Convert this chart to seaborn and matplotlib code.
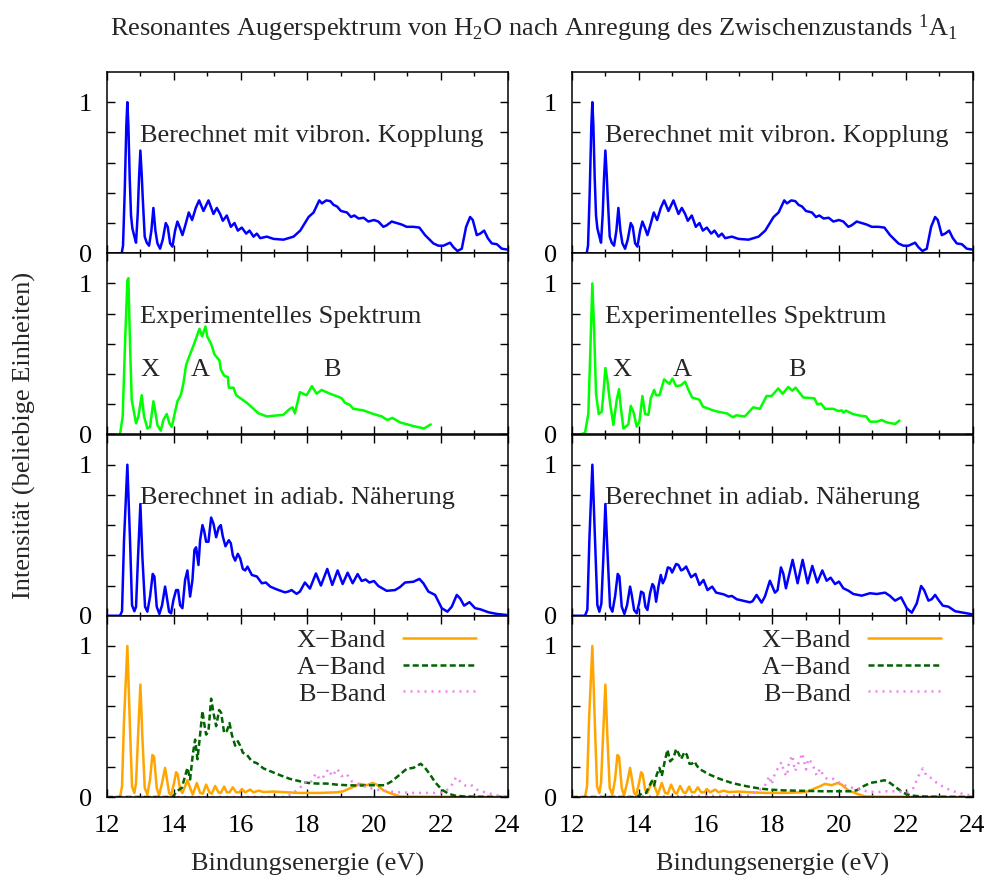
import matplotlib
matplotlib.use("Agg")
import matplotlib.pyplot as plt
from matplotlib.ticker import MultipleLocator, FixedLocator, FixedFormatter
import pandas as pd
import seaborn as sns

# ---------------------------------------------------------------------------
# Spectra (binding energy in eV, intensity in arbitrary units)
# ---------------------------------------------------------------------------

# computed with vibronic coupling (identical in both columns)
vib_E = [12.30, 12.44, 12.48, 12.53, 12.58, 12.61, 12.64, 12.68, 12.72, 12.76,
         12.81, 12.87, 12.92, 12.96, 13.00, 13.04, 13.07, 13.13, 13.19, 13.26,
         13.33, 13.39, 13.45, 13.51, 13.59, 13.67, 13.76, 13.82, 13.89, 13.96,
         14.04, 14.11, 14.19, 14.26, 14.34, 14.45, 14.55, 14.66, 14.76, 14.89,
         15.04, 15.19, 15.29, 15.39, 15.47, 15.59, 15.71, 15.82, 15.92, 16.04,
         16.17, 16.27, 16.39, 16.49, 16.59, 16.79, 16.99, 17.29, 17.59, 17.79,
         18.04, 18.19, 18.36, 18.44, 18.57, 18.69, 18.79, 18.89, 19.01, 19.19,
         19.31, 19.41, 19.54, 19.69, 19.83, 20.00, 20.13, 20.28, 20.38, 20.53,
         20.68, 20.83, 20.98, 21.18, 21.36, 21.53, 21.78, 21.93, 22.08, 22.28,
         22.38, 22.50, 22.63, 22.76, 22.88, 22.96, 23.08, 23.18, 23.30, 23.41,
         23.53, 23.68, 23.83, 23.98]
vib_I = [0.0, 0.0, 0.05, 0.40, 0.85, 1.00, 0.85, 0.50, 0.25, 0.165,
         0.12, 0.07, 0.26, 0.50, 0.68, 0.52, 0.37, 0.11, 0.07, 0.05,
         0.15, 0.30, 0.15, 0.066, 0.03, 0.09, 0.20, 0.175, 0.066, 0.044,
         0.15, 0.21, 0.165, 0.12, 0.18, 0.27, 0.22, 0.30, 0.35, 0.28,
         0.35, 0.26, 0.30, 0.26, 0.215, 0.25, 0.175, 0.20, 0.15, 0.17,
         0.13, 0.15, 0.11, 0.13, 0.10, 0.11, 0.095, 0.09, 0.11, 0.15,
         0.24, 0.27, 0.35, 0.33, 0.35, 0.345, 0.32, 0.31, 0.28, 0.27,
         0.24, 0.25, 0.23, 0.235, 0.21, 0.22, 0.21, 0.175, 0.185, 0.21,
         0.20, 0.19, 0.175, 0.175, 0.17, 0.12, 0.065, 0.05, 0.05, 0.07,
         0.04, 0.015, 0.03, 0.175, 0.24, 0.22, 0.12, 0.13, 0.15, 0.10,
         0.065, 0.06, 0.03, 0.025]

# experimental spectra
expL_E = [12.39, 12.47, 12.54, 12.61, 12.64, 12.69, 12.74, 12.87, 12.94, 13.04,
          13.11, 13.21, 13.29, 13.39, 13.44, 13.51, 13.61, 13.69, 13.79, 13.87,
          13.94, 14.01, 14.11, 14.21, 14.29, 14.37, 14.47, 14.61, 14.77, 14.85,
          14.95, 15.01, 15.12, 15.22, 15.37, 15.41, 15.51, 15.62, 15.65, 15.79,
          15.87, 16.19, 16.54, 16.79, 17.28, 17.48, 17.56, 17.63, 17.78, 17.98,
          18.14, 18.28, 18.43, 18.68, 18.93, 19.03, 19.13, 19.28, 19.38, 19.68,
          19.98, 20.23, 20.40, 20.55, 20.78, 21.18, 21.50, 21.70]
expL_I = [0.0, 0.12, 0.60, 1.02, 1.035, 0.60, 0.23, 0.074, 0.12, 0.26,
          0.12, 0.04, 0.05, 0.22, 0.16, 0.063, 0.025, 0.096, 0.136, 0.074,
          0.05, 0.12, 0.22, 0.26, 0.34, 0.46, 0.52, 0.60, 0.70, 0.65,
          0.715, 0.645, 0.60, 0.53, 0.49, 0.43, 0.39, 0.38, 0.31, 0.31,
          0.26, 0.21, 0.14, 0.12, 0.13, 0.17, 0.18, 0.14, 0.28, 0.26,
          0.32, 0.27, 0.295, 0.27, 0.25, 0.24, 0.21, 0.195, 0.17, 0.16,
          0.136, 0.12, 0.096, 0.11, 0.08, 0.056, 0.04, 0.067]

expR_E = [12.24, 12.39, 12.49, 12.54, 12.61, 12.66, 12.72, 12.80, 12.89, 12.94,
          13.00, 13.06, 13.14, 13.24, 13.34, 13.41, 13.46, 13.54, 13.69, 13.76,
          13.84, 13.94, 14.02, 14.11, 14.19, 14.29, 14.36, 14.46, 14.52, 14.62,
          14.76, 14.92, 15.01, 15.12, 15.26, 15.39, 15.49, 15.60, 15.82, 15.92,
          16.22, 16.39, 16.64, 16.82, 16.92, 17.18, 17.43, 17.63, 17.83, 17.98,
          18.18, 18.31, 18.48, 18.60, 18.70, 18.93, 19.26, 19.35, 19.46, 19.58,
          19.83, 19.98, 20.08, 20.13, 20.21, 20.41, 20.63, 20.81, 20.93, 21.13,
          21.28, 21.43, 21.68, 21.81]
expR_I = [0.0, 0.01, 0.14, 0.49, 1.00, 0.71, 0.27, 0.136, 0.15, 0.27,
          0.44, 0.36, 0.21, 0.063, 0.23, 0.30, 0.185, 0.04, 0.067, 0.19,
          0.15, 0.052, 0.085, 0.255, 0.136, 0.13, 0.24, 0.295, 0.26, 0.26,
          0.365, 0.335, 0.37, 0.32, 0.325, 0.35, 0.295, 0.245, 0.23, 0.185,
          0.16, 0.15, 0.14, 0.114, 0.127, 0.12, 0.18, 0.17, 0.255, 0.255,
          0.305, 0.27, 0.315, 0.29, 0.31, 0.245, 0.24, 0.20, 0.205, 0.17,
          0.17, 0.155, 0.16, 0.145, 0.158, 0.136, 0.125, 0.12, 0.085, 0.085,
          0.096, 0.08, 0.07, 0.092]

# computed in the adiabatic approximation
adL_E = [12.00, 12.39, 12.45, 12.51, 12.61, 12.69, 12.75, 12.82, 12.87, 12.93,
         13.00, 13.06, 13.14, 13.21, 13.29, 13.37, 13.42, 13.49, 13.57, 13.65,
         13.74, 13.79, 13.86, 13.92, 13.99, 14.07, 14.13, 14.19, 14.26, 14.34,
         14.41, 14.49, 14.56, 14.62, 14.67, 14.74, 14.79, 14.86, 14.91, 14.97,
         15.04, 15.12, 15.19, 15.27, 15.35, 15.41, 15.47, 15.55, 15.65, 15.71,
         15.77, 15.84, 15.92, 15.99, 16.07, 16.14, 16.21, 16.34, 16.49, 16.64,
         16.76, 16.89, 17.08, 17.33, 17.43, 17.53, 17.68, 17.78, 17.93, 18.08,
         18.26, 18.41, 18.60, 18.75, 18.91, 19.06, 19.21, 19.36, 19.51, 19.63,
         19.75, 19.86, 20.00, 20.13, 20.38, 20.63, 20.78, 20.93, 21.18, 21.36,
         21.48, 21.63, 21.83, 22.03, 22.20, 22.33, 22.48, 22.58, 22.70, 22.86,
         23.03, 23.18, 23.43, 23.68, 23.98]
adL_I = [0.0, 0.0, 0.03, 0.50, 1.00, 0.50, 0.07, 0.03, 0.06, 0.39,
         0.74, 0.39, 0.06, 0.027, 0.127, 0.277, 0.26, 0.06, 0.012, 0.07,
         0.193, 0.127, 0.027, 0.016, 0.104, 0.17, 0.17, 0.07, 0.05, 0.237,
         0.30, 0.127, 0.237, 0.436, 0.453, 0.336, 0.50, 0.60, 0.563, 0.49,
         0.49, 0.65, 0.61, 0.52, 0.585, 0.60, 0.525, 0.46, 0.50, 0.48,
         0.40, 0.365, 0.41, 0.38, 0.31, 0.30, 0.325, 0.27, 0.26, 0.215,
         0.22, 0.193, 0.175, 0.155, 0.16, 0.17, 0.145, 0.16, 0.22, 0.18,
         0.28, 0.20, 0.31, 0.204, 0.30, 0.21, 0.285, 0.215, 0.276, 0.23,
         0.24, 0.22, 0.23, 0.197, 0.165, 0.17, 0.19, 0.22, 0.225, 0.244,
         0.215, 0.16, 0.138, 0.05, 0.027, 0.06, 0.138, 0.115, 0.067, 0.09,
         0.05, 0.043, 0.023, 0.012, 0.005]

adR_E = [12.04, 12.39, 12.46, 12.52, 12.61, 12.69, 12.76, 12.82, 12.88, 12.94,
         13.00, 13.07, 13.14, 13.21, 13.29, 13.37, 13.42, 13.49, 13.57, 13.65,
         13.74, 13.79, 13.86, 13.94, 14.01, 14.07, 14.14, 14.20, 14.26, 14.34,
         14.41, 14.46, 14.52, 14.59, 14.66, 14.72, 14.79, 14.87, 14.94, 15.00,
         15.12, 15.19, 15.27, 15.34, 15.42, 15.49, 15.57, 15.70, 15.82, 15.94,
         16.06, 16.20, 16.32, 16.54, 16.69, 16.79, 16.94, 17.33, 17.41, 17.53,
         17.68, 17.78, 17.93, 18.08, 18.16, 18.26, 18.33, 18.41, 18.61, 18.76,
         18.91, 19.06, 19.20, 19.35, 19.50, 19.63, 19.75, 19.88, 20.00, 20.13,
         20.28, 20.43, 20.68, 20.93, 21.13, 21.38, 21.53, 21.68, 21.86, 22.03,
         22.18, 22.33, 22.46, 22.55, 22.68, 22.78, 22.88, 22.98, 23.11, 23.28,
         23.48, 23.73, 23.98]
adR_I = [0.0, 0.0, 0.04, 0.50, 1.00, 0.50, 0.07, 0.027, 0.08, 0.39,
         0.74, 0.39, 0.06, 0.027, 0.127, 0.277, 0.26, 0.06, 0.012, 0.07,
         0.193, 0.138, 0.038, 0.016, 0.082, 0.16, 0.15, 0.06, 0.038, 0.15,
         0.21, 0.193, 0.093, 0.193, 0.27, 0.215, 0.248, 0.32, 0.315, 0.286,
         0.343, 0.336, 0.30, 0.308, 0.326, 0.292, 0.255, 0.277, 0.204, 0.237,
         0.17, 0.193, 0.153, 0.142, 0.127, 0.131, 0.109, 0.089, 0.096, 0.138,
         0.087, 0.127, 0.232, 0.153, 0.17, 0.32, 0.28, 0.182, 0.37, 0.215,
         0.37, 0.215, 0.33, 0.22, 0.30, 0.232, 0.252, 0.21, 0.226, 0.182,
         0.166, 0.144, 0.133, 0.149, 0.144, 0.153, 0.131, 0.10, 0.122, 0.05,
         0.02, 0.082, 0.197, 0.17, 0.10, 0.11, 0.138, 0.105, 0.067, 0.06,
         0.03, 0.02, 0.01]

# band contributions: X band (same in both columns)
xb_E = [12.39, 12.45, 12.51, 12.61, 12.69, 12.75, 12.82, 12.87, 12.93, 13.00,
        13.06, 13.13, 13.21, 13.29, 13.36, 13.41, 13.49, 13.56, 13.65, 13.74,
        13.79, 13.86, 13.92, 14.01, 14.07, 14.12, 14.19, 14.26, 14.34, 14.41,
        14.49, 14.57, 14.69, 14.79, 14.87, 14.97, 15.07, 15.14, 15.24, 15.34,
        15.41, 15.51, 15.59, 15.67, 15.77, 15.87, 15.97, 16.04, 16.14, 16.29,
        16.39, 16.54, 16.69, 16.99, 17.38, 17.78, 18.38, 18.88, 19.08, 19.23,
        19.43, 19.58, 19.78, 19.96, 20.08, 20.28, 20.53, 20.78, 21.28, 24.00]
xb_I = [0.0, 0.07, 0.51, 1.00, 0.45, 0.07, 0.027, 0.093, 0.40, 0.744,
        0.40, 0.06, 0.016, 0.116, 0.278, 0.267, 0.06, 0.01, 0.093, 0.193,
        0.127, 0.027, 0.011, 0.093, 0.164, 0.149, 0.049, 0.027, 0.071, 0.111,
        0.06, 0.016, 0.093, 0.027, 0.022, 0.082, 0.031, 0.022, 0.073, 0.031,
        0.027, 0.069, 0.031, 0.031, 0.064, 0.031, 0.031, 0.053, 0.031, 0.049,
        0.031, 0.042, 0.033, 0.036, 0.031, 0.027, 0.027, 0.031, 0.038, 0.053,
        0.071, 0.087, 0.078, 0.093, 0.082, 0.044, 0.022, 0.004, 0.002, 0.0]

# A band
abL_E = [12.00, 13.97, 14.09, 14.24, 14.34, 14.41, 14.49, 14.57, 14.64, 14.71,
         14.79, 14.86, 14.91, 14.97, 15.04, 15.12, 15.19, 15.27, 15.36, 15.42,
         15.51, 15.59, 15.67, 15.74, 15.84, 15.92, 15.99, 16.07, 16.19, 16.34,
         16.49, 16.69, 16.89, 17.19, 17.48, 17.78, 18.03, 18.28, 18.58, 18.88,
         19.18, 19.58, 19.98, 20.33, 20.53, 20.78, 20.98, 21.18, 21.40, 21.53,
         21.68, 21.83, 22.03, 22.23, 22.43, 22.68, 22.98, 24.00]
abL_I = [0.0, 0.0, 0.038, 0.06, 0.138, 0.193, 0.116, 0.28, 0.38, 0.25,
         0.413, 0.57, 0.49, 0.413, 0.436, 0.651, 0.558, 0.469, 0.576, 0.558,
         0.424, 0.436, 0.49, 0.413, 0.34, 0.369, 0.34, 0.293, 0.28, 0.236,
         0.224, 0.189, 0.171, 0.144, 0.12, 0.104, 0.093, 0.089, 0.089, 0.082,
         0.078, 0.076, 0.078, 0.078, 0.104, 0.149, 0.187, 0.193, 0.22, 0.193,
         0.149, 0.098, 0.049, 0.022, 0.009, 0.004, 0.002, 0.0]

abR_E = [12.00, 13.94, 14.09, 14.22, 14.29, 14.39, 14.46, 14.54, 14.62, 14.69,
         14.77, 14.86, 14.94, 15.04, 15.12, 15.19, 15.27, 15.37, 15.44, 15.52,
         15.59, 15.67, 15.74, 15.84, 15.94, 16.04, 16.19, 16.34, 16.54, 16.79,
         17.04, 17.33, 17.63, 17.93, 18.33, 18.73, 19.13, 19.53, 19.93, 20.33,
         20.53, 20.73, 20.93, 21.13, 21.36, 21.53, 21.73, 21.93, 22.13, 22.43,
         22.83, 24.00]
abR_I = [0.0, 0.0, 0.022, 0.027, 0.06, 0.104, 0.076, 0.149, 0.193, 0.138,
         0.227, 0.313, 0.236, 0.258, 0.318, 0.29, 0.251, 0.298, 0.28, 0.22,
         0.22, 0.236, 0.207, 0.182, 0.171, 0.156, 0.142, 0.127, 0.111, 0.093,
         0.08, 0.067, 0.056, 0.049, 0.044, 0.042, 0.04, 0.038, 0.038, 0.038,
         0.044, 0.071, 0.093, 0.10, 0.111, 0.093, 0.06, 0.027, 0.011, 0.004,
         0.002, 0.0]

# B band
bbL_E = [12.00, 17.38, 17.58, 17.78, 17.93, 18.08, 18.26, 18.38, 18.50, 18.63,
         18.75, 18.90, 19.03, 19.18, 19.33, 19.48, 19.68, 19.88, 20.08, 20.38,
         20.78, 21.18, 21.58, 21.88, 22.08, 22.28, 22.46, 22.58, 22.73, 22.90,
         23.08, 23.38, 23.68, 23.98]
bbL_I = [0.0, 0.0, 0.027, 0.06, 0.098, 0.089, 0.156, 0.116, 0.138, 0.184,
         0.138, 0.187, 0.138, 0.153, 0.104, 0.093, 0.071, 0.06, 0.049, 0.038,
         0.031, 0.027, 0.027, 0.027, 0.031, 0.06, 0.131, 0.104, 0.076, 0.082,
         0.049, 0.027, 0.011, 0.004]

bbR_E = [12.00, 17.33, 17.53, 17.73, 17.83, 17.91, 17.98, 18.08, 18.21, 18.28,
         18.36, 18.44, 18.50, 18.60, 18.68, 18.75, 18.90, 19.01, 19.08, 19.20,
         19.33, 19.43, 19.55, 19.68, 19.83, 20.03, 20.23, 20.53, 20.83, 21.13,
         21.43, 21.73, 22.03, 22.23, 22.38, 22.51, 22.63, 22.78, 22.93, 23.18,
         23.43, 23.68, 23.98]
bbR_I = [0.0, 0.009, 0.038, 0.06, 0.093, 0.138, 0.082, 0.156, 0.204, 0.231,
         0.16, 0.138, 0.227, 0.276, 0.171, 0.204, 0.29, 0.182, 0.253, 0.222,
         0.142, 0.187, 0.133, 0.116, 0.12, 0.093, 0.071, 0.053, 0.038, 0.031,
         0.038, 0.038, 0.031, 0.06, 0.138, 0.189, 0.138, 0.124, 0.093, 0.06,
         0.038, 0.022, 0.009]

panel_titles = ["Berechnet mit vibron. Kopplung",
                "Experimentelles Spektrum",
                "Berechnet in adiab. Näherung"]
band_labels = ["X\u2212Band", "A\u2212Band", "B\u2212Band"]
exp_peak_labels = ["X", "A", "B"]
exp_peak_pos = {"left": [13.28, 14.78, 18.75], "right": [13.50, 15.31, 18.75]}

title = ("Resonantes Augerspektrum von H$_2$O nach Anregung des "
         "Zwischenzustands $^1$A$_1$")
ylabel = "Intensität (beliebige Einheiten)"
xlabel = "Bindungsenergie (eV)"
xticks = [12, 14, 16, 18, 20, 22, 24]
yticks = [0, 0.2, 0.4, 0.6, 0.8, 1.0]
ytick_labels = ["0", "", "", "", "", "1"]

# ---------------------------------------------------------------------------
# Styling
# ---------------------------------------------------------------------------
sns.set_theme(style="ticks")
plt.rcParams["font.family"] = ["Liberation Serif", "DejaVu Serif"]
plt.rcParams["mathtext.fontset"] = "custom"
plt.rcParams["mathtext.rm"] = "Liberation Serif"
plt.rcParams["mathtext.it"] = "Liberation Serif:italic"
plt.rcParams["mathtext.bf"] = "Liberation Serif:bold"
plt.rcParams["axes.linewidth"] = 1.1

FS = 19
LW = 1.8
BLUE = "#0000ff"
GREEN = "#00ff00"
ORANGE = "#ffa500"
DKGREEN = "#006400"
VIOLET = "#ee82ee"

fig = plt.figure(figsize=(9.92, 8.8), dpi=100)

col_left = {"left": 107 / 992, "right": 572 / 992}
ax_w = 400.5 / 992
ax_h = 181.25 / 880
bottom0 = 1 - 797 / 880

columns = {
    "left": [
        [(vib_E, vib_I, BLUE, "-", None)],
        [(expL_E, expL_I, GREEN, "-", None)],
        [(adL_E, adL_I, BLUE, "-", None)],
        [(xb_E, xb_I, ORANGE, "-", band_labels[0]),
         (abL_E, abL_I, DKGREEN, (0, (2.4, 1.3)), band_labels[1]),
         (bbL_E, bbL_I, VIOLET, (0, (0.8, 2.0)), band_labels[2])],
    ],
    "right": [
        [(vib_E, vib_I, BLUE, "-", None)],
        [(expR_E, expR_I, GREEN, "-", None)],
        [(adR_E, adR_I, BLUE, "-", None)],
        [(xb_E, xb_I, ORANGE, "-", band_labels[0]),
         (abR_E, abR_I, DKGREEN, (0, (2.4, 1.3)), band_labels[1]),
         (bbR_E, bbR_I, VIOLET, (0, (0.8, 2.0)), band_labels[2])],
    ],
}

for side, rows in columns.items():
    for r, curves in enumerate(rows):
        ax = fig.add_axes([col_left[side], bottom0 + (3 - r) * ax_h, ax_w, ax_h])
        handles = []
        for E, I, color, ls, label in curves:
            df = pd.DataFrame({"E": E, "I": I})
            sns.lineplot(data=df, x="E", y="I", ax=ax, color=color,
                         linewidth=LW, linestyle=ls, sort=False,
                         estimator=None, legend=False)
            line = ax.get_lines()[-1]
            if ls != "-":
                line.set_dash_capstyle("butt")
            if label is not None:
                handles.append((line, label))

        ax.set_xlim(12, 24)
        ax.set_ylim(0, 1.2)
        ax.set_xlabel("")
        ax.set_ylabel("")
        ax.xaxis.set_major_locator(FixedLocator(xticks))
        ax.xaxis.set_minor_locator(MultipleLocator(1))
        ax.yaxis.set_major_locator(FixedLocator(yticks))
        ax.yaxis.set_major_formatter(FixedFormatter(ytick_labels))
        ax.tick_params(which="both", direction="in", top=True, right=True,
                       width=1.0, labelsize=FS, colors="black")
        ax.tick_params(which="major", length=6)
        ax.tick_params(which="minor", length=3)
        ax.tick_params(axis="y", pad=11)
        ax.tick_params(axis="x", pad=13)
        if r < 3:
            ax.tick_params(labelbottom=False)
        for sp in ax.spines.values():
            sp.set_color("black")
            sp.set_linewidth(1.1)

        if r < 3:
            ax.text(13.0, 0.737, panel_titles[r], fontsize=FS, ha="left",
                    va="baseline")
        if r == 1:
            for lab, xp in zip(exp_peak_labels, exp_peak_pos[side]):
                ax.text(xp, 0.39, lab, fontsize=FS, ha="center", va="baseline")
        if r == 3:
            ax.legend([h for h, _ in handles], [l for _, l in handles],
                      loc="upper right", bbox_to_anchor=(0.921, 0.928),
                      frameon=False, markerfirst=False, fontsize=FS,
                      handlelength=2.77, handletextpad=0.64,
                      labelspacing=0.12, borderpad=0, borderaxespad=0)
            cx = col_left[side] + ax_w / 2
            fig.text(cx, 1 - 871 / 880, xlabel, fontsize=FS, ha="center",
                     va="baseline")

fig.text(0.538, 1 - 36 / 880, title, fontsize=FS, ha="center", va="baseline")
fig.text(24 / 992, 1 - 435 / 880, ylabel, fontsize=FS, rotation=90,
         ha="center", va="center")

fig.savefig("out.png", dpi=100)
